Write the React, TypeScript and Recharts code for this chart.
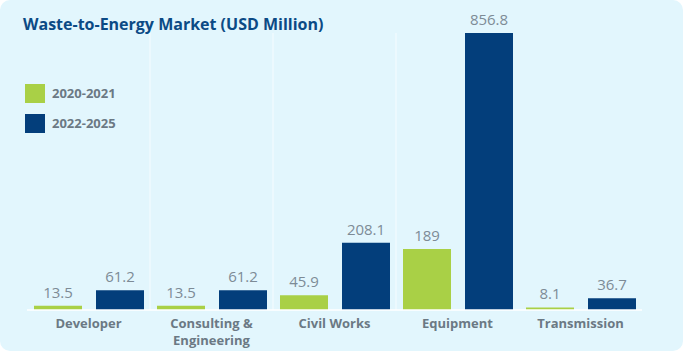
import { BarChart, Bar, XAxis, YAxis, CartesianGrid, LabelList, Text } from "recharts";

const categories = ["Developer", "Consulting & Engineering", "Civil Works", "Equipment", "Transmission"];
const series2020 = [13.5, 13.5, 45.9, 189, 8.1];
const series2022 = [61.2, 61.2, 208.1, 856.8, 36.7];
const seriesNames = ["2020-2021", "2022-2025"];

const chartData = categories.map((name, i) => ({
  name,
  a: series2020[i],
  b: series2022[i],
}));

const GREEN = "#a9d046";
const NAVY = "#033e7b";
const FONT = "'Open Sans', sans-serif";

const Tick = (props: any) => {
  const { x, y, payload } = props;
  return (
    <Text
      x={x}
      y={y + 0.5}
      width={110}
      textAnchor="middle"
      verticalAnchor="start"
      fontFamily={FONT}
      fontSize={13}
      fontWeight={700}
      fill="#6b7984"
      lineHeight={17}
    >
      {payload.value}
    </Text>
  );
};

const LegendBox = () => (
  <div style={{ position: "absolute", left: 25, top: 78, fontFamily: FONT }}>
    {seriesNames.map((n, i) => (
      <div key={n} style={{ display: "flex", alignItems: "center", height: 30 }}>
        <span
          style={{
            width: 20,
            height: 19,
            background: i === 0 ? GREEN : NAVY,
            display: "inline-block",
            marginRight: 7,
          }}
        />
        <span style={{ fontSize: 13, fontWeight: 700, color: "#6b7984" }}>{n}</span>
      </div>
    ))}
  </div>
);

export default function App() {
  return (
    <div
      style={{
        position: "absolute",
        left: 0,
        top: 0,
        width: 683,
        height: 351,
        background: "#e2f6fd",
        borderRadius: 10,
        overflow: "hidden",
      }}
    >
      <div
        style={{
          position: "absolute",
          left: 23,
          top: 13,
          fontFamily: FONT,
          fontSize: 16,
          fontWeight: 700,
          color: "#0b4a85",
          whiteSpace: "nowrap",
        }}
      >
        Waste-to-Energy Market (USD Million)
      </div>
      <BarChart
        width={683}
        height={351}
        data={chartData}
        margin={{ top: 33, right: 41, left: 27, bottom: 11 }}
        barCategoryGap={6}
        barGap={14}
        barSize={48}
      >
        <CartesianGrid
          horizontal={false}
          stroke="#f6fcff"
          verticalCoordinatesGenerator={({ offset }: any) =>
            [1, 2, 3].map((i) => offset.left + (i * offset.width) / categories.length)
          }
        />
        <XAxis
          dataKey="name"
          axisLine={{ stroke: "#ffffff", strokeWidth: 1.5 }}
          tickLine={false}
          interval={0}
          height={30}
          tick={<Tick />}
        />
        <YAxis hide domain={[0, 856.8]} />
        <Bar dataKey="a" name={seriesNames[0]} fill={GREEN} isAnimationActive={false}>
          <LabelList dataKey="a" position="top" offset={8} fill="#7d8b96" fontSize={15} fontFamily={FONT} />
        </Bar>
        <Bar dataKey="b" name={seriesNames[1]} fill={NAVY} isAnimationActive={false}>
          <LabelList dataKey="b" position="top" offset={8} fill="#7d8b96" fontSize={15} fontFamily={FONT} />
        </Bar>
      </BarChart>
      <LegendBox />
    </div>
  );
}
